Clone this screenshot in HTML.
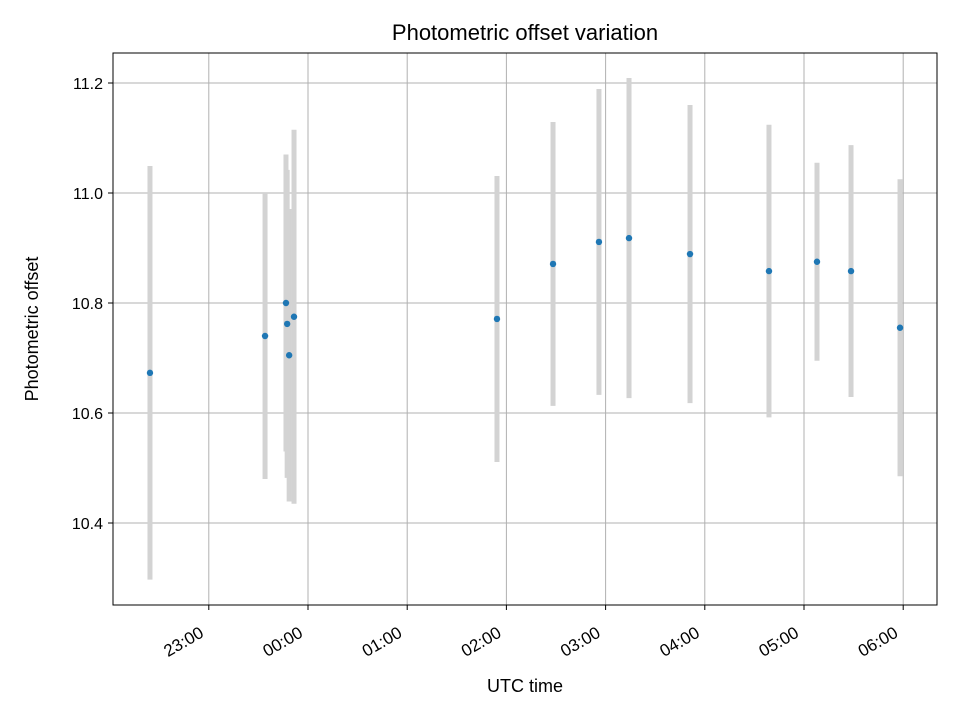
<!DOCTYPE html>
<html><head><meta charset="utf-8"><style>
html,body{margin:0;padding:0;background:#fff;}
svg{display:block;font-family:"Liberation Sans","DejaVu Sans",sans-serif;}
</style></head><body>
<svg id="chart" width="960" height="720">
<rect x="0" y="0" width="960" height="720" fill="#fff"/>
<g id="grid"></g><g id="bars"></g><g id="pts"></g><g id="axes"></g>
<rect x="113" y="53" width="824" height="552" fill="none" stroke="#000" stroke-width="1"/>
<text x="525" y="40" font-size="22" text-anchor="middle">Photometric offset variation</text>
<text x="525" y="692" font-size="18" text-anchor="middle">UTC time</text>
<text transform="translate(38,329) rotate(-90)" font-size="18" text-anchor="middle">Photometric offset</text>
</svg>
<script>
// hours relative to 00:00 UTC
const times = [-1.593,-0.433,-0.222,-0.21,-0.19,-0.141,1.905,2.47,2.933,3.236,3.851,4.647,5.131,5.474,5.968];
const offsets = [10.673,10.74,10.80,10.762,10.705,10.775,10.771,10.871,10.911,10.918,10.889,10.858,10.875,10.858,10.755];
const errors = [0.376,0.26,0.27,0.28,0.266,0.34,0.26,0.258,0.278,0.291,0.271,0.266,0.18,0.229,0.27];
const xTicks = [-1,0,1,2,3,4,5,6];
const xTickLabels = ["23:00","00:00","01:00","02:00","03:00","04:00","05:00","06:00"];
const yTicks = [10.4,10.6,10.8,11.0,11.2];
const yTickLabels = ["10.4","10.6","10.8","11.0","11.2"];

const NS="http://www.w3.org/2000/svg";
const X = h => 308 + h*99.2;
const Y = v => 83 + (11.2 - v)*550;
function mk(tag, attrs, parent){const e=document.createElementNS(NS,tag);for(const k in attrs)e.setAttribute(k,attrs[k]);parent.appendChild(e);return e;}
const grid=document.getElementById('grid'),bars=document.getElementById('bars'),pts=document.getElementById('pts'),axes=document.getElementById('axes');
xTicks.forEach((t,i)=>{
  const x=X(t);
  const g=mk('line',{x1:x,x2:x,y1:53,y2:605,stroke:'#b0b0b0','stroke-width':1},grid);
  
  
  const tk=mk('line',{x1:x,x2:x,y1:605,y2:610,stroke:'#000'},axes);
  
  
  const ax=x-4, ay=636;
  const tx=mk('text',{x:ax,y:ay,'font-size':17,'text-anchor':'end',transform:`rotate(-30 ${ax} ${ay})`},axes);
  tx.textContent=xTickLabels[i];
  
  
});
yTicks.forEach((t,i)=>{
  const y=Y(t);
  const g=mk('line',{x1:113,x2:937,y1:y,y2:y,stroke:'#b0b0b0','stroke-width':1},grid);
  
  
  const tk=mk('line',{x1:108,x2:113,y1:y,y2:y,stroke:'#000'},axes);
  
  
  const tx=mk('text',{x:103,y:y+6,'font-size':16,'text-anchor':'end'},axes);
  tx.textContent=yTickLabels[i];
  
  
});
times.forEach((t,i)=>{
  const x=X(t);
  const b=mk('line',{x1:x,x2:x,y1:Y(offsets[i]+errors[i]),y2:Y(offsets[i]-errors[i]),stroke:'#d3d3d3','stroke-width':5},bars);
  
  
  const c=mk('circle',{cx:x,cy:Y(offsets[i]),r:3.2,fill:'#1f77b4'},pts);
  
  
});
</script>
</body></html>
